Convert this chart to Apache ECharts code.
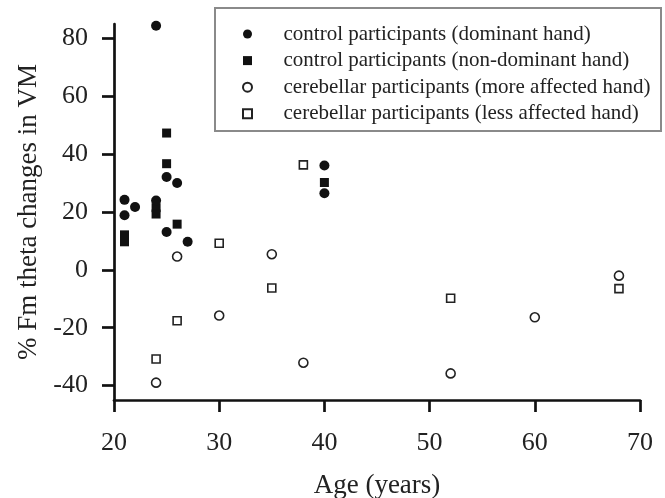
<!DOCTYPE html>
<html>
<head>
<meta charset="utf-8">
<script src="https://cdn.jsdelivr.net/npm/echarts@6/dist/echarts.min.js"></script>
<style>
  html, body { margin: 0; padding: 0; background: #fff; }
  #chart { width: 665px; height: 498px; }
</style>
</head>
<body>
<div id="chart"></div>
<script>
// Age (years) and % change of Fm theta in VM, per group and hand
const ctrlDomAge = [24, 25, 26, 21, 22, 21, 24, 25, 27, 40, 40];
const ctrlDomVal = [84.4, 32.1, 30.0, 24.2, 21.7, 18.9, 24.0, 13.1, 9.7, 36.1, 26.5];

const ctrlNonAge = [25, 25, 24, 24, 26, 21, 21, 40];
const ctrlNonVal = [47.3, 36.7, 21.5, 19.3, 15.8, 12.1, 9.7, 30.2];

const cereMoreAge = [26, 30, 24, 35, 38, 52, 60, 68];
const cereMoreVal = [4.6, -15.8, -39.0, 5.4, -32.1, -35.8, -16.4, -2.0];

const cereLessAge = [30, 26, 24, 38, 35, 52, 68];
const cereLessVal = [9.2, -17.6, -30.8, 36.3, -6.3, -9.8, -6.5];

const seriesNames = [
  'control participants (dominant hand)',
  'control participants (non-dominant hand)',
  'cerebellar participants (more affected hand)',
  'cerebellar participants (less affected hand)'
];

const yTicks = [-40, -20, 0, 20, 40, 60, 80];

const pairs = (xs, ys) => xs.map((x, i) => [x, ys[i]]);

const FONT = 'Liberation Serif';
const INK = '#111';

const chart = echarts.init(document.getElementById('chart'), null, { renderer: 'canvas' });

chart.setOption({
  backgroundColor: '#fff',
  animation: false,
  grid: { left: 114, right: 25, top: 24, bottom: 98, containLabel: false, outerBoundsMode: 'none' },
  graphic: [{
    type: 'rect',
    shape: { x: 215, y: 8, width: 446, height: 123 },
    style: { fill: 'none', stroke: '#8a8a8a', lineWidth: 2 },
    z: 0
  }],
  legend: {
    orient: 'vertical',
    left: 242,
    top: 23.5,
    itemWidth: 62,
    itemHeight: 9,
    itemGap: 5.6,
    padding: 0,
    textStyle: { fontFamily: FONT, fontSize: 21, color: '#222' },
    data: [
      { name: seriesNames[0], icon: 'circle' },
      { name: seriesNames[1], icon: 'path://M0,0H10V10H0Z' },
      { name: seriesNames[2], icon: 'circle' },
      { name: seriesNames[3], icon: 'path://M0,0H10V10H0Z' }
    ]
  },
  xAxis: {
    type: 'value',
    min: 20, max: 70, interval: 10,
    name: 'Age (years)',
    nameLocation: 'middle',
    nameGap: 72,
    nameTextStyle: { fontFamily: FONT, fontSize: 27, color: '#222' },
    axisLine: { show: true, onZero: false, lineStyle: { color: INK, width: 2.7 } },
    axisTick: { show: true, inside: false, length: 12, lineStyle: { color: INK, width: 2.7 } },
    axisLabel: { fontFamily: FONT, fontSize: 26, color: '#222', margin: 30 },
    splitLine: { show: false }
  },
  yAxis: {
    type: 'value',
    min: -45, max: 85,
    name: '% Fm theta changes in VM',
    nameLocation: 'middle',
    nameGap: 67,
    nameTextStyle: { fontFamily: FONT, fontSize: 27, color: '#222' },
    axisLine: { show: true, onZero: false, lineStyle: { color: INK, width: 2.7 } },
    axisTick: { show: true, inside: false, length: 12, customValues: yTicks, lineStyle: { color: INK, width: 2.7 } },
    axisLabel: { fontFamily: FONT, fontSize: 26, color: '#222', margin: 26, customValues: yTicks },
    splitLine: { show: false }
  },
  series: [
    {
      name: seriesNames[0], type: 'scatter', symbol: 'circle', symbolSize: 10,
      itemStyle: { color: INK, opacity: 1 },
      data: pairs(ctrlDomAge, ctrlDomVal), z: 4
    },
    {
      name: seriesNames[1], type: 'scatter', symbol: 'rect', symbolSize: 9,
      itemStyle: { color: INK, opacity: 1 },
      data: pairs(ctrlNonAge, ctrlNonVal), z: 3
    },
    {
      name: seriesNames[2], type: 'scatter', symbol: 'circle', symbolSize: 9,
      itemStyle: { color: '#fff', borderColor: '#222', borderWidth: 1.6, opacity: 1 },
      data: pairs(cereMoreAge, cereMoreVal), z: 2
    },
    {
      name: seriesNames[3], type: 'scatter', symbol: 'rect', symbolSize: 8,
      itemStyle: { color: '#fff', borderColor: '#222', borderWidth: 1.6, opacity: 1 },
      data: pairs(cereLessAge, cereLessVal), z: 2
    }
  ]
});
</script>
</body>
</html>
